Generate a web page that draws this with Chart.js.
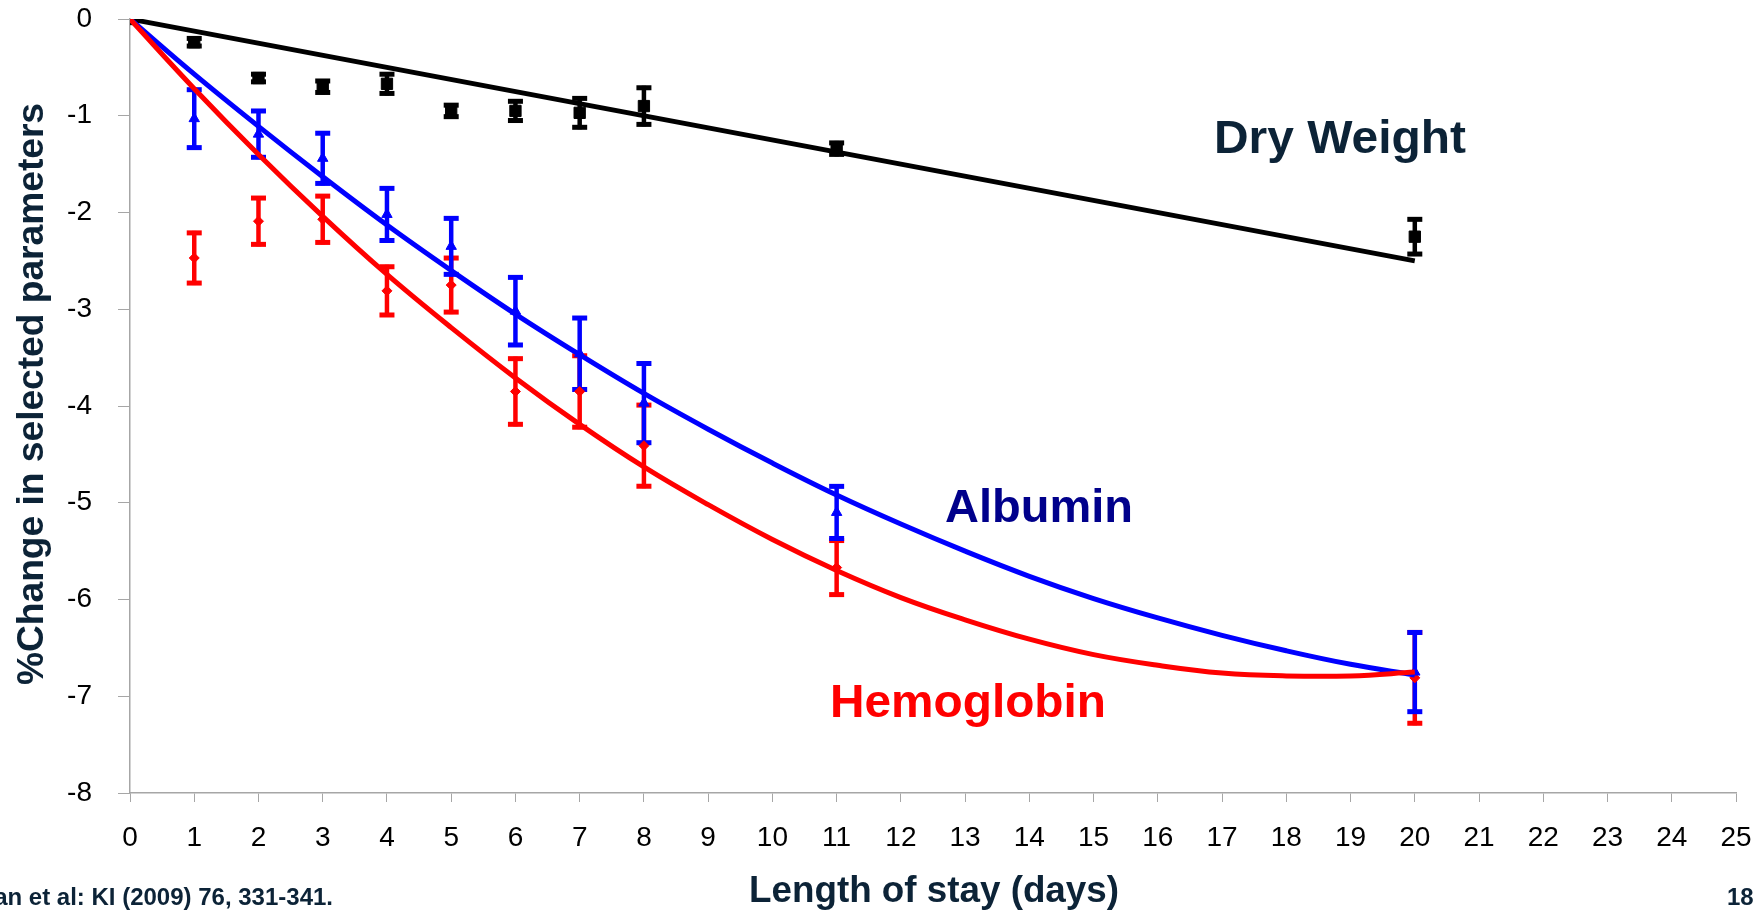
<!DOCTYPE html>
<html>
<head>
<meta charset="utf-8">
<title>Length of stay</title>
<script src="https://cdn.jsdelivr.net/npm/chart.js@4.4.1/dist/chart.umd.min.js"></script>
<style>
  html, body { margin: 0; padding: 0; background: #fff; }
  canvas { display: block; }
</style>
</head>
<body>
<canvas id="stay-chart" width="1758" height="912"></canvas>
<script>
// measured days and mean % change with their error bar half-lengths
const days = [0, 1, 2, 3, 4, 5, 6, 7, 8, 11, 20];
const dryWeight = [0, -0.24, -0.61, -0.70, -0.67, -0.95, -0.95, -0.97, -0.90, -1.34, -2.25];
const dryWeightErr = [0, 0.06, 0.06, 0.08, 0.12, 0.08, 0.12, 0.17, 0.21, 0.08, 0.20];
const albumin = [0, -1.03, -1.19, -1.44, -2.02, -2.35, -3.02, -3.46, -3.97, -5.10, -6.75];
const albuminErr = [0, 0.32, 0.26, 0.28, 0.29, 0.31, 0.37, 0.39, 0.43, 0.29, 0.43];
const hemoglobin = [0, -2.47, -2.09, -2.07, -2.81, -2.75, -3.85, -3.85, -4.41, -5.67, -6.81];
const hemoglobinErr = [0, 0.28, 0.26, 0.26, 0.27, 0.30, 0.36, 0.39, 0.44, 0.30, 0.49];

// trend lines
const fitDays = [0, 1, 2, 3, 4, 5, 6, 7, 8, 9, 10, 11, 12, 13, 14, 15, 16, 17, 18, 19, 20];
const albuminFit = [0, -0.57, -1.11, -1.63, -2.13, -2.60, -3.05, -3.47, -3.87, -4.24, -4.59,
  -4.92, -5.22, -5.50, -5.76, -5.99, -6.19, -6.37, -6.53, -6.67, -6.78];
const hemoglobinFit = [0, -0.72, -1.40, -2.04, -2.64, -3.19, -3.71, -4.19, -4.63, -5.02, -5.38,
  -5.70, -5.98, -6.21, -6.41, -6.57, -6.68, -6.76, -6.79, -6.79, -6.75];
const dryWeightFitDays = [0, 20];
const dryWeightFit = [0, -2.5];

const xTicks = [0, 25];
const yTicks = [-8, 0];

const FONT = '"Liberation Sans", Arial, sans-serif';
const DARK = '#0c2337';
const AXIS_GRAY = '#a6a6a6';

function toPoints(xs, ys) {
  return xs.map((x, i) => ({ x: x, y: ys[i] }));
}

// vertical error bars with caps, drawn under the markers
const errorBars = {
  id: 'errorBars',
  beforeDatasetsDraw(chart) {
    const ctx = chart.ctx;
    const xs = chart.scales.x;
    const ys = chart.scales.y;
    const sets = [
      { vals: hemoglobin, err: hemoglobinErr, color: '#ff0000' },
      { vals: albumin, err: albuminErr, color: '#0000ff' },
      { vals: dryWeight, err: dryWeightErr, color: '#000000' }
    ];
    ctx.save();
    sets.forEach(s => {
      ctx.strokeStyle = s.color;
      ctx.fillStyle = s.color;
      ctx.lineWidth = 4.5;
      days.forEach((d, i) => {
        if (!s.err[i]) return;
        const px = xs.getPixelForValue(d);
        const top = ys.getPixelForValue(s.vals[i] + s.err[i]);
        const bot = ys.getPixelForValue(s.vals[i] - s.err[i]);
        ctx.beginPath();
        ctx.moveTo(px, top);
        ctx.lineTo(px, bot);
        ctx.stroke();
        ctx.fillRect(px - 7.5, top - 0.5, 15, 5);
        ctx.fillRect(px - 7.5, bot - 4.5, 15, 5);
      });
    });
    ctx.restore();
  }
};

function drawText(ctx, str, x, y, size, color, width, align) {
  ctx.save();
  ctx.font = 'bold ' + size + 'px ' + FONT;
  ctx.fillStyle = color;
  ctx.textBaseline = 'alphabetic';
  ctx.textAlign = align || 'left';
  const w = ctx.measureText(str).width;
  ctx.translate(x, y);
  ctx.scale(width ? width / w : 1, 1);
  ctx.fillText(str, 0, 0);
  ctx.restore();
}

// axis titles, series names and the slide footer
const slideText = {
  id: 'slideText',
  afterDraw(chart) {
    const ctx = chart.ctx;
    drawText(ctx, 'Length of stay (days)', 934, 902, 36, DARK, 370, 'center');

    ctx.save();
    ctx.translate(43, 394);
    ctx.rotate(-Math.PI / 2);
    drawText(ctx, '%Change in selected parameters', 0, 0, 37, DARK, 582, 'center');
    ctx.restore();

    drawText(ctx, 'Dry Weight', 1214, 153, 46, DARK, 252);
    drawText(ctx, 'Albumin', 945, 522, 46, '#00008b', 188);
    drawText(ctx, 'Hemoglobin', 830, 717, 47, '#ff0000', 276);

    drawText(ctx, 'an et al: KI (2009) 76, 331-341.', 333, 905, 24, DARK, 0, 'right');
    drawText(ctx, '18', 1727, 905, 24, DARK);
  }
};

function loadStayChart() {
  const ctx = document.getElementById('stay-chart').getContext('2d');
  new Chart(ctx, {
    type: 'scatter',
    data: {
      datasets: [
        {
          label: 'Hemoglobin trend',
          type: 'line',
          data: toPoints(fitDays, hemoglobinFit),
          borderColor: '#ff0000',
          borderWidth: 5,
          pointRadius: 0,
          tension: 0.4,
          fill: false,
          order: 0
        },
        {
          label: 'Albumin trend',
          type: 'line',
          data: toPoints(fitDays, albuminFit),
          borderColor: '#0000ff',
          borderWidth: 5,
          pointRadius: 0,
          tension: 0.4,
          fill: false,
          order: 1
        },
        {
          label: 'Dry Weight trend',
          type: 'line',
          data: toPoints(dryWeightFitDays, dryWeightFit),
          borderColor: '#000000',
          borderWidth: 4.8,
          pointRadius: 0,
          fill: false,
          order: 2
        },
        {
          label: 'Hemoglobin',
          data: toPoints(days, hemoglobin),
          pointStyle: 'rectRot',
          pointRadius: 5,
          backgroundColor: '#ff0000',
          borderColor: '#ff0000',
          borderWidth: 1,
          order: 7
        },
        {
          label: 'Albumin',
          data: toPoints(days, albumin),
          pointStyle: 'triangle',
          pointRadius: 6,
          backgroundColor: '#0000ff',
          borderColor: '#0000ff',
          borderWidth: 1,
          order: 6
        },
        {
          label: 'Dry Weight',
          data: toPoints(days, dryWeight),
          pointStyle: 'rect',
          pointRadius: 8,
          backgroundColor: '#000000',
          borderColor: '#000000',
          borderWidth: 1,
          order: 5
        }
      ]
    },
    options: {
      responsive: false,
      animation: false,
      events: [],
      layout: { padding: 0 },
      plugins: {
        legend: { display: false },
        tooltip: { enabled: false }
      },
      scales: {
        x: {
          type: 'linear',
          min: xTicks[0],
          max: xTicks[1],
          ticks: {
            stepSize: 1,
            color: '#000',
            padding: 19,
            maxRotation: 0,
            autoSkip: false,
            font: { family: FONT, size: 28 }
          },
          grid: {
            drawOnChartArea: false,
            drawTicks: true,
            tickLength: 9,
            color: AXIS_GRAY,
            lineWidth: 1
          },
          border: { color: AXIS_GRAY, width: 1.5 },
          afterFit(scale) {
            scale.height = 119;
            scale.paddingLeft = 0;
            scale.paddingRight = 22;
          }
        },
        y: {
          type: 'linear',
          min: yTicks[0],
          max: yTicks[1],
          ticks: {
            stepSize: 1,
            color: '#000',
            padding: 26,
            font: { family: FONT, size: 28 }
          },
          grid: {
            drawOnChartArea: false,
            drawTicks: true,
            tickLength: 12,
            color: AXIS_GRAY,
            lineWidth: 1
          },
          border: { color: AXIS_GRAY, width: 1.5 },
          afterFit(scale) {
            scale.width = 130;
            scale.paddingTop = 19;
            scale.paddingBottom = 0;
          }
        }
      }
    },
    plugins: [errorBars, slideText]
  });
}

document.addEventListener('DOMContentLoaded', loadStayChart);
</script>
</body>
</html>
